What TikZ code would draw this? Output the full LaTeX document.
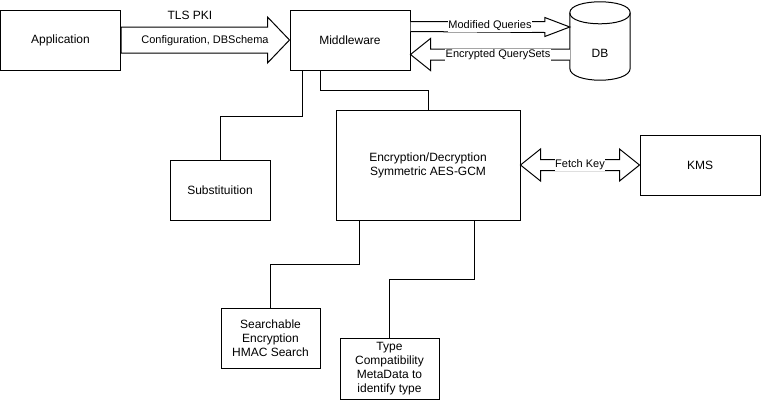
\documentclass[tikz,border=0pt]{standalone}
\usepackage{fontspec}
\setmainfont{Liberation Sans}
\usetikzlibrary{shapes,arrows,positioning,calc,shapes.geometric}

\begin{document}
\begin{tikzpicture}[
    x=1pt, y=-1pt,
    box/.style={rectangle, draw=black, line width=1pt, inner sep=0pt, text centered, align=center, font=\fontsize{12}{14}\selectfont},
    blockarrow/.style={draw=black, line width=1pt, fill=white, line join=miter},
    link/.style={draw=black, line width=1pt},
    lbl/.style={fill=white, inner sep=0.5pt, font=\fontsize{11}{13}\selectfont}
]
\useasboundingbox (0,0) rectangle (761,400);

% Top row
\node[box, minimum width=120, minimum height=60] (app) at (60.5,40) {Application};
\node[box, minimum width=120, minimum height=60] (mw) at (350,40) {Middleware};
\node[minimum width=60, minimum height=78, inner sep=0pt] (db) at (600,41) {};
\draw[link, fill=white] ($(db.north west)+(0,11)$) .. controls ($(db.north west)+(0,-3.67)$) and ($(db.north east)+(0,-3.67)$) .. ($(db.north east)+(0,11)$)
    -- ($(db.south east)+(0,-12)$) .. controls ($(db.south east)+(0,4)$) and ($(db.south west)+(0,4)$) .. ($(db.south west)+(0,-12)$) -- cycle;
\draw[link] ($(db.north west)+(0,11)$) .. controls ($(db.north west)+(0,25.67)$) and ($(db.north east)+(0,25.67)$) .. ($(db.north east)+(0,11)$);
\node[font=\fontsize{12}{14}\selectfont] (dbtext) at (600,53) {DB};

% Middle row
\node[box, minimum width=100, minimum height=60] (sub) at (220,190) {Substituition};
\node[box, minimum width=184, minimum height=110] (enc) at (428,165) {Encryption/Decryption\\Symmetric AES-GCM};
\node[box, minimum width=120, minimum height=60] (kms) at (700,165) {KMS};

% Bottom row
\node[box, minimum width=99, minimum height=60] (srch) at (270.5,338) {Searchable\\Encryption\\HMAC Search};
\node[box, minimum width=99, minimum height=61] (type) at (389.5,368.5) {Type\\Compatibility\\MetaData to\\identify type};

% Block arrows
\draw[blockarrow] ($(app.east)+(0,-13)$) -- ($(mw.west)+(-22,-13)$) -- ($(mw.west)+(-22,-23)$) -- (mw.west)
    -- ($(mw.west)+(-22,23)$) -- ($(mw.west)+(-22,13)$) -- ($(app.east)+(0,13)$) -- cycle;
\node[font=\fontsize{12}{14}\selectfont] (tls) at (190,15) {TLS PKI};
\node[lbl, fill=none] (cfg) at (205,41) {Configuration, DBSchema};

\coordinate (mqtip) at ($(db.west)+(0,-14)$);
\draw[blockarrow] ($(mw.east)+(0,-18.5)$) -- ($(mqtip)+(-25,-5.5)$) -- ($(mqtip)+(-25,-9.5)$) -- (mqtip)
    -- ($(mqtip)+(-25,9.5)$) -- ($(mqtip)+(-25,5.5)$) -- ($(mw.east)+(0,-8.5)$);
\node[lbl] (mq) at (490,26) {Modified Queries};

\coordinate (eqtip) at ($(mw.east)+(0,14.5)$);
\draw[blockarrow] ($(db.west)+(0,8)$) -- ($(eqtip)+(20,-5.5)$) -- ($(eqtip)+(20,-16)$) -- (eqtip)
    -- ($(eqtip)+(20,16)$) -- ($(eqtip)+(20,5.5)$) -- ($(db.west)+(0,19)$);
\node[lbl] (eq) at (498,55) {Encrypted QuerySets};

\draw[blockarrow] (enc.east) -- ++(20,-16) -- ++(0,10.5) -- ($(kms.west)+(-20,-5.5)$) -- ++(0,-10.5) -- (kms.west)
    -- ++(-20,16) -- ++(0,-10.5) -- ($(enc.east)+(20,5.5)$) -- ++(0,10.5) -- cycle;
\node[lbl] (fk) at (580,165) {Fetch Key};

% Connections
\draw[link] ($(mw.south)+(-48,0)$) -- ++(0,46) -| (sub.north);
\draw[link] ($(mw.south)+(-30,0)$) -- ++(0,20) -| (enc.north);
\draw[link] ($(enc.south)+(-69,0)$) -- ++(0,44) -| (srch.north);
\draw[link] ($(enc.south)+(46,0)$) -- ++(0,59) -| (type.north);

\end{tikzpicture}
\end{document}
